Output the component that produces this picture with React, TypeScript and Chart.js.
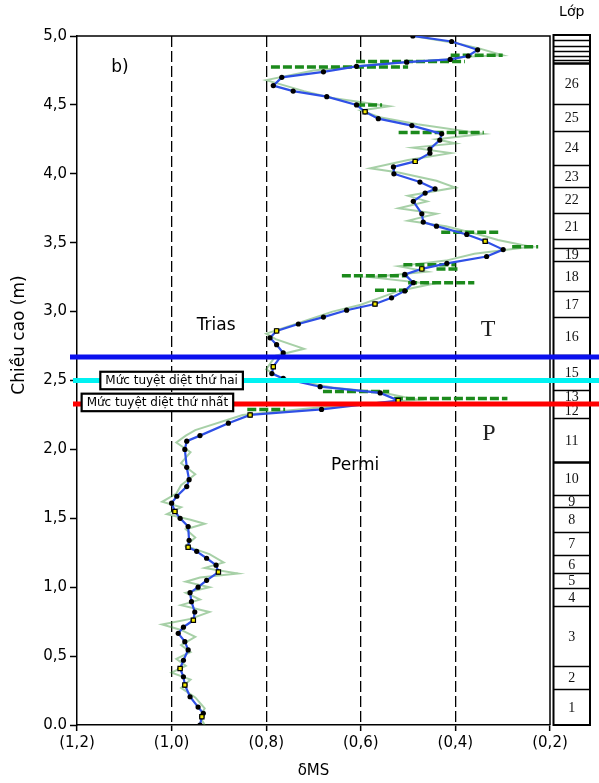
import React, { useEffect, useRef } from 'react';
import { Chart, registerables } from 'chart.js';

Chart.register(...registerables);

// ---- smoothed curve (blue line with black markers): height (m) and δMS ----
const curveHeight = [
  5.0, 4.96, 4.9, 4.855, 4.83, 4.81, 4.78, 4.74, 4.7, 4.64, 4.6, 4.56, 4.5, 4.45, 4.4, 4.35, 4.29, 4.245,
  4.18, 4.15, 4.09, 4.05, 4.0, 3.94, 3.89, 3.86, 3.8, 3.71, 3.65, 3.62, 3.56, 3.51, 3.45, 3.4, 3.35, 3.31,
  3.27, 3.21, 3.15, 3.1, 3.055, 3.01, 2.96, 2.91, 2.86, 2.81, 2.76, 2.7, 2.6, 2.55, 2.515, 2.455, 2.41,
  2.355, 2.29, 2.25, 2.19, 2.1, 2.06, 2.0, 1.87, 1.78, 1.73, 1.66, 1.61, 1.55, 1.5, 1.44, 1.34, 1.29, 1.26,
  1.21, 1.16, 1.11, 1.05, 1.0, 0.96, 0.895, 0.82, 0.76, 0.71, 0.665, 0.605, 0.545, 0.47, 0.41, 0.35, 0.29,
  0.205, 0.13, 0.085, 0.06, 0.0,
];
const curveDMS = [
  0.49, 0.408, 0.353, 0.373, 0.411, 0.503, 0.609, 0.679, 0.767, 0.785, 0.743, 0.672, 0.609, 0.591, 0.563,
  0.492, 0.429, 0.433, 0.454, 0.454, 0.485, 0.531, 0.53, 0.475, 0.443, 0.464, 0.489, 0.471, 0.468, 0.44,
  0.376, 0.337, 0.299, 0.334, 0.418, 0.471, 0.507, 0.489, 0.507, 0.535, 0.57, 0.63, 0.679, 0.732, 0.778,
  0.792, 0.778, 0.764, 0.785, 0.788, 0.764, 0.686, 0.559, 0.521, 0.683, 0.834, 0.88, 0.94, 0.968, 0.972,
  0.968, 0.963, 0.968, 0.989, 1.0, 0.993, 0.982, 0.965, 0.963, 0.965, 0.947, 0.926, 0.906, 0.901, 0.926,
  0.944, 0.961, 0.958, 0.951, 0.954, 0.975, 0.986, 0.972, 0.965, 0.975, 0.982, 0.975, 0.972, 0.961, 0.944,
  0.933, 0.936, 0.94,
];

// ---- raw signal (thin light green) ----
const rawHeight = [
  5.0, 4.95, 4.91, 4.86, 4.85, 4.83, 4.8, 4.75, 4.68, 4.64, 4.6, 4.55, 4.49, 4.46, 4.41, 4.36, 4.29, 4.25,
  4.22, 4.19, 4.15, 4.1, 4.04, 4.01, 3.95, 3.9, 3.84, 3.8, 3.75, 3.71, 3.66, 3.62, 3.56, 3.52, 3.47, 3.42,
  3.37, 3.33, 3.29, 3.25, 3.2, 3.15, 3.1, 3.05, 3.0, 2.93, 2.84, 2.8, 2.73, 2.68, 2.58, 2.52, 2.45, 2.41,
  2.36, 2.3, 2.25, 2.14, 2.1, 2.05, 1.98, 1.9, 1.82, 1.74, 1.68, 1.62, 1.58, 1.53, 1.49, 1.46, 1.42, 1.36,
  1.3, 1.24, 1.18, 1.14, 1.1, 1.07, 1.04, 1.0, 0.96, 0.91, 0.87, 0.82, 0.77, 0.73, 0.69, 0.64, 0.58, 0.53,
  0.48, 0.43, 0.38, 0.33, 0.27, 0.2, 0.12, 0.06, 0.0,
];
const rawDMS = [
  0.49, 0.4, 0.35, 0.3, 0.38, 0.42, 0.55, 0.7, 0.8, 0.76, 0.72, 0.66, 0.54, 0.6, 0.56, 0.48, 0.34, 0.44,
  0.4, 0.49, 0.41, 0.5, 0.58, 0.52, 0.44, 0.4, 0.5, 0.46, 0.52, 0.44, 0.5, 0.42, 0.35, 0.31, 0.24, 0.36,
  0.42, 0.52, 0.46, 0.58, 0.45, 0.52, 0.56, 0.6, 0.66, 0.72, 0.8, 0.78, 0.72, 0.78, 0.8, 0.77, 0.66, 0.55,
  0.48, 0.7, 0.85, 0.95, 0.97, 0.99, 0.96, 0.98, 0.95, 0.98, 0.99, 1.02, 0.98, 1.01, 0.96, 0.93, 0.97,
  0.95, 0.97, 0.92, 0.89, 0.93, 0.86, 0.94, 0.97, 0.92, 0.97, 0.94, 0.98, 0.92, 0.96, 1.02, 0.98, 0.95,
  0.98, 0.96, 0.99, 0.97, 1.0, 0.96, 0.98, 0.95, 0.93, 0.94, 0.93,
];

// ---- dark green horizontal dash segments ----
const dashHeight = [4.86, 4.815, 4.775, 4.5, 4.3, 3.575, 3.47, 3.34, 3.31, 3.26, 3.21, 3.155, 2.42, 2.37, 2.29];
const dashFrom = [0.41, 0.61, 0.79, 0.61, 0.52, 0.43, 0.28, 0.51, 0.44, 0.64, 0.5, 0.57, 0.68, 0.53, 0.84];
const dashTo = [0.3, 0.38, 0.5, 0.555, 0.34, 0.305, 0.225, 0.4, 0.39, 0.5, 0.36, 0.5, 0.54, 0.29, 0.76];

// ---- yellow square markers ----
const markHeight = [4.45, 4.09, 3.51, 3.31, 3.055, 2.86, 2.6, 2.355, 2.25, 1.55, 1.29, 1.11, 0.76, 0.41, 0.29, 0.06];
const markDMS = [0.591, 0.485, 0.337, 0.471, 0.57, 0.778, 0.785, 0.521, 0.834, 0.993, 0.965, 0.901, 0.954, 0.982, 0.972, 0.936];

// ---- extinction levels ----
const levelHeight = [2.67, 2.5, 2.33];
const levelName = ['', 'Mức tuyệt diệt thứ hai', 'Mức tuyệt diệt thứ nhất'];

// ---- layer column ----
const layerBounds = [
  0, 0.259, 0.428, 0.864, 0.992, 1.105, 1.234, 1.403, 1.584, 1.669, 1.911, 2.226, 2.337, 2.431, 2.685,
  2.963, 3.149, 3.369, 3.459, 3.525, 3.718, 3.906, 4.064, 4.313, 4.506, 4.806, 4.826, 4.855, 4.893, 4.927,
  4.971, 5.0,
];
const layerLabels = [
  '1', '2', '3', '4', '5', '6', '7', '8', '9', '10', '11', '12', '13', '15', '16', '17', '18', '19', '',
  '21', '22', '23', '24', '25', '26', '', '', '', '', '', '',
];

// ---- ticks ----
const xTickValues = [0.2, 0.4, 0.6, 0.8, 1.0, 1.2];
const xTickLabels = ['(0,2)', '(0,4)', '(0,6)', '(0,8)', '(1,0)', '(1,2)'];
const yTickValues = [0, 0.5, 1, 1.5, 2, 2.5, 3, 3.5, 4, 4.5, 5];
const yTickLabels = ['0.0', '0,5', '1,0', '1,5', '2,0', '2,5', '3,0', '3,5', '4,0', '4,5', '5,0'];

const SANS = "'DejaVu Sans', 'Liberation Sans', Arial, sans-serif";
const SERIF = "'Liberation Serif', 'DejaVu Serif', serif";

const pts = (xs: number[], ys: number[]) => xs.map((v, i) => ({ x: v, y: ys[i] }));

const findLabel = (vals: number[], labels: string[], v: number) => {
  const k = vals.findIndex((t) => Math.abs(t - v) < 1e-6);
  return k >= 0 ? labels[k] : '';
};

const decor = {
  id: 'decor',
  beforeDatasetsDraw(chart: any) {
    const { ctx, chartArea: a, scales } = chart;
    const y = scales.y;
    ctx.save();
    // frame top & right
    ctx.strokeStyle = '#000';
    ctx.lineWidth = 1.5;
    ctx.beginPath();
    ctx.moveTo(a.left, a.top);
    ctx.lineTo(a.right, a.top);
    ctx.lineTo(a.right, a.bottom);
    ctx.stroke();

    // y-axis title
    ctx.save();
    ctx.translate(20, y.getPixelForValue(2.83));
    ctx.rotate(-Math.PI / 2);
    ctx.fillStyle = '#000';
    ctx.font = `17px ${SANS}`;
    ctx.textAlign = 'center';
    ctx.textBaseline = 'middle';
    ctx.fillText('Chiều cao (m)', 0, 0);
    ctx.restore();

    // layer column
    const cl = a.right + 3.5;
    const cr = a.right + 40;
    const yTop = y.getPixelForValue(layerBounds[layerBounds.length - 1]) - 1;
    const yBot = y.getPixelForValue(layerBounds[0]);
    ctx.fillStyle = '#fff';
    ctx.fillRect(cl, yTop, cr - cl, yBot - yTop);
    for (let i = 0; i < layerBounds.length - 1; i++) {
      const b0 = y.getPixelForValue(layerBounds[i]);
      const b1 = y.getPixelForValue(layerBounds[i + 1]);
      const lab = layerLabels[i];
      if (lab) {
        ctx.save();
        ctx.beginPath();
        ctx.rect(cl, b1, cr - cl, b0 - b1);
        ctx.clip();
        ctx.fillStyle = '#111';
        ctx.font = `14px ${SERIF}`;
        ctx.textAlign = 'center';
        ctx.textBaseline = 'middle';
        ctx.fillText(lab, (cl + cr) / 2, (b0 + b1) / 2 + 1);
        ctx.restore();
      }
    }
    ctx.strokeStyle = '#000';
    for (let i = 1; i < layerBounds.length - 1; i++) {
      const b = Math.round(y.getPixelForValue(layerBounds[i])) + 0.5;
      ctx.lineWidth = layerBounds[i] === 4.806 || layerBounds[i] === 1.911 ? 2.5 : 1.3;
      ctx.beginPath();
      ctx.moveTo(cl, b);
      ctx.lineTo(cr, b);
      ctx.stroke();
    }
    ctx.lineWidth = 2;
    ctx.strokeRect(cl, yTop, cr - cl, yBot - yTop);

    ctx.fillStyle = '#000';
    ctx.font = `14px ${SANS}`;
    ctx.textAlign = 'center';
    ctx.textBaseline = 'middle';
    ctx.fillText('Lớp', (cl + cr) / 2, 12);
    ctx.restore();
  },
  afterDatasetsDraw(chart: any) {
    const { ctx, chartArea: a, scales, width } = chart;
    const { x, y } = scales;
    ctx.save();
    // level lines
    const levelColors = ['#0a10ee', '#00f2f2', '#ff0000'];
    levelHeight.forEach((h, i) => {
      const py = y.getPixelForValue(h);
      ctx.strokeStyle = levelColors[i];
      ctx.lineWidth = 5;
      ctx.beginPath();
      ctx.moveTo(a.left - (i === 0 ? 7 : 4), py);
      ctx.lineTo(width, py);
      ctx.stroke();
    });
    // level labels
    const boxCenter = [0, 1.0, 1.03];
    ctx.font = `12px ${SANS}`;
    ctx.textAlign = 'center';
    ctx.textBaseline = 'middle';
    levelName.forEach((name, i) => {
      if (!name) return;
      const cx = x.getPixelForValue(boxCenter[i]);
      const cy = y.getPixelForValue(levelHeight[i]) + (i === 2 ? -1.5 : 0);
      const w = ctx.measureText(name).width + 10;
      const hgt = 17.5;
      ctx.fillStyle = '#fff';
      ctx.fillRect(cx - w / 2, cy - hgt / 2, w, hgt);
      ctx.strokeStyle = '#000';
      ctx.lineWidth = 2.2;
      ctx.strokeRect(cx - w / 2, cy - hgt / 2, w, hgt);
      ctx.fillStyle = '#000';
      ctx.fillText(name, cx, cy + 0.5);
    });
    // annotations
    ctx.fillStyle = '#000';
    ctx.font = `17px ${SANS}`;
    ctx.fillText('b)', x.getPixelForValue(1.109), y.getPixelForValue(4.77));
    ctx.fillText('Trias', x.getPixelForValue(0.906), y.getPixelForValue(2.895));
    ctx.fillText('Permi', x.getPixelForValue(0.612), y.getPixelForValue(1.88));
    ctx.fillStyle = '#222';
    ctx.font = `24px ${SERIF}`;
    ctx.fillText('T', x.getPixelForValue(0.331), y.getPixelForValue(2.866));
    ctx.fillText('P', x.getPixelForValue(0.329), y.getPixelForValue(2.112));
    ctx.restore();
  },
};

export default function App() {
  const ref = useRef<HTMLCanvasElement | null>(null);

  useEffect(() => {
    if (!ref.current) return;
    const dashData: any[] = [];
    dashHeight.forEach((h, i) => {
      dashData.push({ x: dashFrom[i], y: h }, { x: dashTo[i], y: h }, { x: dashTo[i], y: null });
    });

    const chart = new Chart(ref.current, {
      type: 'line',
      data: {
        datasets: [
          {
            label: 'marks',
            data: pts(markDMS, markHeight),
            showLine: false,
            pointStyle: 'rect',
            pointRadius: 3,
            pointBackgroundColor: '#f0e800',
            pointBorderColor: '#000',
            pointBorderWidth: 1.2,
            order: 1,
          },
          {
            label: 'smooth',
            data: pts(curveDMS, curveHeight),
            borderColor: '#2f50e6',
            borderWidth: 2.2,
            tension: 0,
            pointRadius: 2.6,
            pointBackgroundColor: '#000',
            pointBorderColor: '#000',
            pointBorderWidth: 0,
            order: 2,
          },
          {
            label: 'dashes',
            data: dashData,
            borderColor: '#1c8a1c',
            borderWidth: 3.5,
            borderDash: [9, 3],
            pointRadius: 0,
            spanGaps: false,
            tension: 0,
            order: 3,
          },
          {
            label: 'raw',
            data: pts(rawDMS, rawHeight),
            borderColor: 'rgba(60,150,60,0.45)',
            borderWidth: 2,
            pointRadius: 0,
            tension: 0,
            order: 4,
          },
        ],
      },
      options: {
        animation: false,
        responsive: false,
        events: [],
        layout: { padding: { top: 36, right: 49, left: 0, bottom: 0 } },
        plugins: { legend: { display: false }, tooltip: { enabled: false } },
        scales: {
          x: {
            type: 'linear',
            reverse: true,
            min: 0.2,
            max: 1.2,
            afterBuildTicks: (s: any) => {
              s.ticks = xTickValues.map((v) => ({ value: v }));
            },
            afterFit: (s: any) => {
              s.height = 58;
            },
            ticks: {
              callback: (v: any) => findLabel(xTickValues, xTickLabels, Number(v)),
              font: { family: SANS, size: 15 },
              color: '#000',
              padding: 3,
              maxRotation: 0,
              autoSkip: false,
            },
            grid: {
              color: (c: any) =>
                c.tick && (Math.abs(c.tick.value - 0.2) < 1e-6 || Math.abs(c.tick.value - 1.2) < 1e-6)
                  ? 'rgba(0,0,0,0)'
                  : '#000',
              lineWidth: 1.3,
              tickColor: '#000',
              tickLength: 6,
              tickWidth: 1.5,
              drawTicks: true,
            },
            border: { display: true, color: '#000', width: 1.5, dash: [11, 4] },
            title: {
              display: true,
              text: 'δMS',
              font: { family: SANS, size: 15 },
              color: '#000',
              padding: { top: 0, bottom: 3 },
            },
          },
          y: {
            type: 'linear',
            min: 0,
            max: 5,
            afterBuildTicks: (s: any) => {
              s.ticks = yTickValues.map((v) => ({ value: v }));
            },
            afterFit: (s: any) => {
              s.width = 77;
            },
            ticks: {
              callback: (v: any) => findLabel(yTickValues, yTickLabels, Number(v)),
              font: { family: SANS, size: 15 },
              color: '#000',
              padding: 3,
              autoSkip: false,
            },
            grid: {
              drawOnChartArea: false,
              drawTicks: true,
              tickLength: 7,
              tickColor: '#000',
              tickWidth: 1.5,
            },
            border: { display: true, color: '#000', width: 1.5 },
            title: { display: false },
          },
        },
      },
      plugins: [decor],
    } as any);

    return () => chart.destroy();
  }, []);

  return (
    <div style={{ position: 'absolute', left: 0, top: 0, width: 599, height: 783, background: '#fff' }}>
      <canvas ref={ref} width={599} height={783} style={{ display: 'block' }} />
    </div>
  );
}
